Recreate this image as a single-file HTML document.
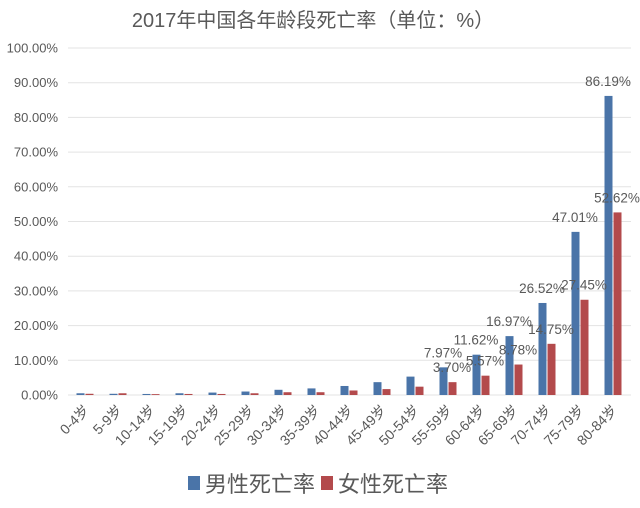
<!DOCTYPE html>
<html><head><meta charset="utf-8"><style>
html,body{margin:0;padding:0;background:#fff;}
svg{display:block;font-family:"Liberation Sans","Noto Sans CJK SC",sans-serif;}
</style></head><body>
<svg width="640" height="508" viewBox="0 0 640 508" xmlns="http://www.w3.org/2000/svg">
<text x="313" y="27" text-anchor="middle" font-size="20" fill="#595959">2017年中国各年龄段死亡率（单位：%）</text>
<g id="grid" stroke="#e3e3e3" stroke-width="1"></g>
<g id="yl" font-size="13" fill="#595959" text-anchor="end"></g>
<g id="bars"></g>
<g id="xl" font-size="14" fill="#595959"></g>
<g id="dl" font-size="13.5" fill="#595959" text-anchor="middle"></g>
<rect x="188" y="476" width="12" height="14" fill="#4a74a8"/>
<text x="205" y="492" font-size="22" fill="#595959">男性死亡率</text>
<rect x="321" y="476" width="12" height="14" fill="#b34a4c"/>
<text x="338" y="492" font-size="22" fill="#595959">女性死亡率</text>
<script>
var ns="http://www.w3.org/2000/svg";
function el(p,t,a,txt){var e=document.createElementNS(ns,t);for(var k in a)e.setAttribute(k,a[k]);if(txt!==undefined)e.textContent=txt;document.getElementById(p).appendChild(e);return e;}
var y0=395,k=3.47;
for(var i=0;i<=10;i++){var y=y0-i*10*k;el('grid','line',{x1:68,x2:631,y1:y.toFixed(1),y2:y.toFixed(1)});el('yl','text',{x:58,y:(y+4.5).toFixed(1)},(i*10)+'.00%');}
var cats=["0-4岁","5-9岁","10-14岁","15-19岁","20-24岁","25-29岁","30-34岁","35-39岁","40-44岁","45-49岁","50-54岁","55-59岁","60-64岁","65-69岁","70-74岁","75-79岁","80-84岁"];
var m=[0.5,0.35,0.3,0.5,0.7,1.0,1.5,1.9,2.6,3.7,5.3,7.97,11.62,16.97,26.52,47.01,86.19];
var f=[0.35,0.5,0.25,0.3,0.3,0.5,0.8,0.8,1.3,1.7,2.4,3.70,5.57,8.78,14.75,27.45,52.62];
for(var i=0;i<17;i++){var c=85+i*33;
var hm=m[i]*k,hf=f[i]*k;
el('bars','rect',{x:c-8.5,y:y0-hm,width:8,height:hm,fill:'#4a74a8'});
el('bars','rect',{x:c+0.5,y:y0-hf,width:8,height:hf,fill:'#b34a4c'});
el('xl','text',{x:0,y:0,'text-anchor':'end',transform:'translate('+(c+5)+',411) rotate(-45)'},cats[i]);
if(i>=11){el('dl','text',{x:c-5,y:(y0-hm-10).toFixed(1)},m[i].toFixed(2)+'%');
el('dl','text',{x:c+4,y:(y0-hf-10).toFixed(1)},f[i].toFixed(2)+'%');}
}
</script>
</svg>
</body></html>
